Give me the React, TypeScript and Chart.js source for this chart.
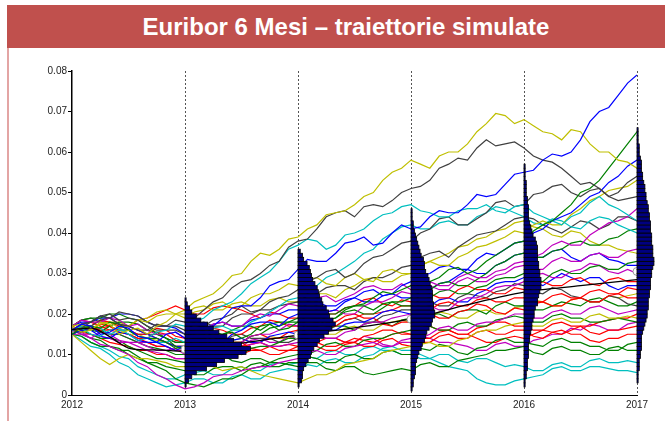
import React, { useEffect, useRef } from 'react';
import { Chart, registerables } from 'chart.js';

Chart.register(...registerables);

// ---- data ----
const TITLE = 'Euribor 6 Mesi – traiettorie simulate';
const YEARS = [2012, 2013, 2014, 2015, 2016, 2017];
// simulation grid, months after Jan 2012
const MONTHS = [0, 1, 2, 3, 4, 5, 6, 7, 8, 9, 10, 11, 12, 13, 14, 15, 16, 17, 18, 19, 20, 21, 22, 23, 24, 25, 26, 27, 28, 29, 30, 31, 32, 33, 34, 35, 36, 37, 38, 39, 40, 41, 42, 43, 44, 45, 46, 47, 48, 49, 50, 51, 52, 53, 54, 55, 56, 57, 58, 59, 60];

// simulated paths, values in per-mille (16 = 0.016)
const P01 = [16, 17.5, 17, 15, 15.5, 17, 16.5, 14.5, 14, 13, 15, 15.5, 14, 16.5, 17, 17, 19, 21.5, 22, 22, 24, 27, 28, 28.5, 31, 33.5, 33, 33, 35, 37.5, 38, 39, 37, 37.5, 40, 42, 41, 41.5, 44, 45.5, 45, 45, 47, 49.5, 49, 49.5, 52, 54.5, 55, 55.5, 58, 59.5, 59, 60, 63, 67.5, 70, 71, 74, 77, 79];
const P02 = [17, 15.5, 16, 18, 17.5, 15, 16, 16.5, 15, 17, 18, 20, 21, 23, 24, 25, 27, 29.5, 30, 33, 35, 34.5, 36, 38.5, 39, 41, 42, 44.5, 45, 45.5, 47, 49, 50, 53, 55, 56, 58, 57, 56, 59, 60, 60, 62, 65, 67, 69.5, 69, 67, 68, 66.5, 65, 64.5, 63, 65.5, 65, 62, 60, 60, 58, 57.5, 56];
const P03 = [16, 16.5, 18, 19.5, 19, 17.5, 17, 16, 16, 17.5, 17, 18.5, 18, 19, 21, 23, 24, 26.5, 28, 28.5, 30, 32, 33, 36.5, 38, 38.5, 41, 44, 45, 45.5, 44, 46.5, 47, 46.5, 48, 50, 51, 51.5, 53, 56, 57, 58.5, 58, 61, 63, 61.5, 62, 62.5, 61, 59, 58, 57.5, 56, 54, 52, 52.5, 51, 49, 50, 52.5, 54];
const P04 = [15, 16.5, 17, 16.5, 18, 17.5, 16, 14.5, 14, 14, 13, 11.5, 12, 13.5, 13, 13.5, 15, 15.5, 14, 15, 17, 17.5, 16, 16.5, 18, 19.5, 20, 18.5, 19, 21, 22, 22.5, 24, 25.5, 25, 26, 27, 28.5, 28, 29, 31, 31.5, 30, 31, 33, 34.5, 36, 37.5, 38, 40.5, 42, 43, 45, 47, 50, 51, 53, 56, 59, 62, 65];
const P05 = [16, 16.5, 15, 14.5, 16, 16.5, 15, 13.5, 14, 15.5, 16, 17.5, 17, 18, 19, 21, 22, 23, 25, 27.5, 29, 30.5, 33, 36, 37, 38.5, 38, 36, 37, 39.5, 40, 41, 43, 44.5, 45, 46.5, 47, 45.5, 45, 44, 44, 45.5, 46, 46, 47, 45.5, 45, 46.5, 47, 45, 44, 43, 42, 44, 45, 47.5, 49, 47, 46, 44.5, 43];
const P06 = [16, 17.5, 18, 19.5, 20, 18.5, 19, 18.5, 17, 16, 16, 16, 15, 16.5, 17, 18.5, 19, 20, 22, 20.5, 21, 23, 24, 24.5, 26, 28, 29, 30.5, 31, 29, 30, 32.5, 34, 34.5, 36, 37.5, 38, 40, 41, 43.5, 44, 42, 42, 43.5, 45, 47.5, 48, 46.5, 47, 49.5, 50, 51.5, 52, 50, 49, 50.5, 51, 49, 48, 48.5, 49];
const P07 = [17, 17.5, 16, 17.5, 18, 16.5, 17, 18.5, 18, 19.5, 20, 20, 19, 20.5, 21, 22.5, 23, 21.5, 22, 24, 25, 25, 26, 27.5, 27, 28.5, 29, 27.5, 27, 29, 30, 28.5, 28, 30.5, 31, 30, 30, 32, 33, 32, 32, 34, 35, 36.5, 37, 38, 39, 40.5, 40, 42, 43, 42, 42, 44.5, 46, 48, 49, 50.5, 51, 51.5, 53];
const P08 = [15, 16, 16, 14.5, 14, 15.5, 15, 13.5, 13, 13, 12, 11, 12, 13.5, 14, 13, 13, 15, 16, 17.5, 18, 18, 17, 19, 20, 21.5, 22, 20.5, 21, 23, 24, 25.5, 26, 24.5, 25, 27, 28, 29.5, 30, 31.5, 32, 31, 31, 33.5, 35, 34.5, 36, 37.5, 38, 40, 41, 43, 44, 45, 47, 49, 50, 52.5, 54, 56.5, 58];
const P09 = [16, 17, 17, 16.5, 15, 16, 16, 14.5, 14, 13, 13, 14, 13, 14.5, 15, 16.5, 17, 16, 16, 18, 19, 20.5, 22, 23.5, 24, 25, 27, 29, 30, 31.5, 33, 35, 36, 38.5, 40, 41.5, 42, 41, 41, 42.5, 43, 42, 42, 44, 45, 46.5, 46, 45, 44, 42.5, 42, 43.5, 43, 41.5, 41, 43, 44, 43.5, 42, 41, 40];
const P10 = [17, 18.5, 18, 18, 19, 18.5, 17, 17.5, 16, 15, 15, 15.5, 14, 15, 16, 17.5, 18, 17, 17, 19, 20, 19.5, 21, 22.5, 22, 23, 24, 24.5, 23, 24, 25, 26.5, 27, 26, 26, 27.5, 26, 27.5, 28, 27, 27, 29, 30, 29, 29, 30.5, 31, 32.5, 33, 34, 35, 37, 38, 37, 37, 39.5, 41, 42.5, 43, 44, 46];
const P11 = [16, 15.5, 17, 18.5, 19, 20.5, 20, 19.5, 18, 17, 17, 17, 16, 17.5, 18, 17, 17, 19, 20, 20, 21, 21, 22, 22.5, 23, 24.5, 25, 26.5, 27, 27, 26, 28, 29, 29, 30, 31.5, 32, 34, 35, 35.5, 34, 36.5, 38, 39.5, 40, 40.5, 42, 43.5, 44, 43.5, 42, 41, 40, 41.5, 43, 42.5, 41, 42, 44, 44, 43];
const P12 = [15, 16, 16, 15.5, 17, 18, 18, 17.5, 16, 15.5, 14, 13, 13, 14, 14, 15.5, 15, 16, 17, 17, 16, 17.5, 18, 18, 19, 20.5, 21, 20, 20, 21.5, 22, 22, 21, 22.5, 23, 23, 24, 25.5, 26, 27.5, 28, 27, 27, 28.5, 30, 32, 33, 34.5, 35, 34, 34, 35.5, 36, 37.5, 38, 37, 37, 38.5, 39, 40.5, 41];
const P13 = [15, 15, 14, 15.5, 15, 13.5, 13, 13, 12, 11, 11, 11.5, 10, 11.5, 12, 11, 11, 12.5, 13, 14.5, 15, 15, 16, 17.5, 17, 18.5, 19, 20.5, 21, 20, 20, 22, 23, 23, 24, 25.5, 25, 26.5, 27, 26, 26, 28, 29, 28, 28, 29.5, 30, 31.5, 32, 31, 31, 33, 34, 33, 33, 34.5, 35, 34, 34, 35.5, 36];
const P14 = [16, 17, 17, 16.5, 18, 18, 17, 18.5, 19, 20.5, 21, 20, 20, 21.5, 22, 21, 21, 22.5, 23, 22, 22, 23.5, 24, 23, 23, 24.5, 25, 25, 24, 26, 27, 28.5, 29, 28, 28, 29.5, 30, 32, 33, 34, 35, 36.5, 37, 38.5, 39, 40.5, 41, 42.5, 43, 41.5, 41, 39.5, 39, 40.5, 40, 38, 37, 37, 36, 35.5, 35];
const P15 = [17, 18.5, 19, 19, 20, 20, 19, 18.5, 17, 15, 14, 12, 11, 12, 12, 13.5, 14, 13, 13, 14.5, 15, 16.5, 17, 18, 18, 17, 17, 18.5, 19, 20.5, 21, 20, 20, 21.5, 23, 22, 22, 23.5, 24, 25.5, 26, 25, 25, 26.5, 27, 28.5, 29, 29, 30, 28.5, 28, 30, 31, 30, 30, 31.5, 32, 31, 31, 32.5, 33];
const P16 = [16, 17.5, 18, 19, 19, 20, 20, 19.5, 18, 17, 17, 16.5, 15, 16, 16, 17.5, 18, 17, 17, 18.5, 19, 20, 20, 21, 21, 22.5, 23, 22, 22, 23.5, 24, 23, 23, 24.5, 25, 24, 24, 25.5, 26, 27.5, 28, 29.5, 31, 30, 30, 32, 33, 34.5, 35, 34, 34, 35.5, 36, 34, 33, 34.5, 35, 33.5, 33, 32, 32];
const P17 = [16, 15, 15, 14.5, 14, 13, 13, 12, 11, 10.5, 10, 9, 9, 10.5, 10, 11.5, 12, 11, 11, 12.5, 13, 12, 12, 12.5, 13, 14.5, 15, 14, 14, 15.5, 16, 17.5, 18, 18, 19, 19.5, 20, 21.5, 22, 21, 21, 23, 24, 24, 25, 26.5, 27, 27, 28, 29.5, 30, 29, 29, 30.5, 31, 32.5, 32, 30.5, 30, 31, 30];
const P18 = [16, 16, 17, 18.5, 18, 17, 17, 18.5, 19, 20, 21, 22, 21, 20, 20, 21.5, 22, 21.5, 21, 20, 19, 20.5, 20, 19, 19, 20.5, 21, 20, 20, 21.5, 22, 23.5, 24, 22.5, 22, 23.5, 23, 24.5, 25, 24, 24, 26, 27, 26, 26, 25, 25, 26.5, 26, 27, 28, 27, 27, 28.5, 29, 27.5, 27, 28.5, 29, 28, 28];
const P19 = [17, 18, 18, 19.5, 19, 17.5, 17, 16, 15, 14, 13, 12, 12, 13.5, 13, 12, 12, 13.5, 14, 13, 13, 14.5, 15, 15.5, 15, 16.5, 17, 16, 16, 17.5, 18, 18, 19, 20.5, 21, 20.5, 20, 21.5, 22, 23.5, 24, 23, 23, 25, 26, 27.5, 28, 28, 29, 28, 27, 28.5, 30, 29, 28, 29, 29, 27, 26, 27, 27];
const P20 = [16, 17, 17, 16, 16, 15.5, 15, 14, 13, 12, 12, 11, 11, 12, 12, 13.5, 14, 13, 13, 14.5, 15, 14, 14, 15.5, 16, 17.5, 18, 17, 17, 18.5, 19, 20, 20, 20.5, 21, 22, 22, 21, 21, 22.5, 23, 22, 22, 23.5, 24, 23, 23, 24, 24, 23, 23, 24.5, 25, 24, 24, 25.5, 26, 25, 25, 26.5, 26];
const P21 = [15, 16, 16, 16.5, 17, 16, 16, 15, 15, 16.5, 16, 14.5, 14, 15.5, 15, 16.5, 16, 15, 15, 16.5, 17, 18.5, 18, 17, 17, 18.5, 19, 18, 18, 19.5, 20, 19, 19, 17.5, 17, 18, 18, 19.5, 20, 19, 19, 20.5, 21, 22.5, 22, 20.5, 20, 21.5, 21, 22.5, 23, 22, 22, 23.5, 24, 23, 23, 24.5, 25, 24, 24];
const P22 = [16, 16, 15, 14, 14, 13.5, 12, 11, 10, 9, 9, 8.5, 8, 8, 9, 10.5, 11, 11, 10, 11.5, 12, 12, 13, 14, 14, 14, 15, 16.5, 17, 17, 16, 17.5, 18, 18, 17, 18.5, 19, 19.5, 20, 20, 19, 20.5, 21, 21, 20, 22, 23, 22, 22, 21, 21, 22, 23, 22.5, 22, 23.5, 24, 23, 22, 22, 23];
const P23 = [17, 18.5, 19, 18, 18, 17.5, 16, 15, 15, 15, 14, 13, 13, 14, 14, 13, 13, 14.5, 15, 14, 14, 14, 13, 13, 14, 15.5, 16, 16, 17, 18.5, 19, 18, 18, 19.5, 20, 21, 21, 22.5, 23, 22, 22, 24, 25, 24.5, 24, 25.5, 26, 27.5, 27, 25.5, 25, 26.5, 26, 24.5, 24, 23, 23, 24.5, 24, 22.5, 22];
const P24 = [16, 15.5, 14, 12.5, 12, 11, 10, 8, 7, 5, 4, 2.5, 1.5, 2, 3, 4.5, 5, 5, 6, 6.5, 7, 7, 8, 8.5, 9, 10.5, 11, 10, 10, 11.5, 12, 12.5, 13, 12, 12, 13.5, 14, 14, 15, 16.5, 17, 16, 16, 17.5, 18, 18, 19, 20, 20, 19, 19, 20.5, 21, 20, 20, 21.5, 22, 21, 20, 20.5, 21];
const P25 = [15, 13, 11, 9, 7.5, 9, 10, 9, 9, 8.5, 8, 7, 7, 7, 8, 7, 6, 6.5, 7, 6, 5, 4.5, 4, 3.5, 3, 4, 5, 5, 6, 7.5, 8, 8.5, 9, 10.5, 11, 11.5, 12, 12.5, 13, 12, 12, 13.5, 14, 15.5, 16, 16, 17, 17.5, 18, 17, 17, 18.5, 19, 18, 18, 19.5, 20, 19, 19, 19.5, 19];
const P26 = [16, 15, 14, 13.5, 12, 11, 11, 9.5, 8, 7, 6, 4, 3, 2.5, 2, 3, 4, 4, 5, 6.5, 7, 8, 9, 9.5, 10, 10, 11, 12.5, 13, 12, 12, 13.5, 14, 14, 15, 15.5, 16, 16, 17, 16, 16, 17.5, 18, 17, 17, 18.5, 19, 19.5, 19, 18, 18, 19.5, 20, 19, 19, 18, 18, 18.5, 19, 18.5, 18];
const P27 = [17, 16, 16, 17.5, 17, 15.5, 15, 14, 14, 15.5, 15, 13.5, 13, 14, 14, 12.5, 12, 13, 13, 11.5, 11, 12, 12, 12.5, 12, 13.5, 13, 14, 14, 13, 13, 14.5, 15, 16, 16, 15, 15, 16.5, 17, 16, 16, 15, 15, 16.5, 17, 18, 18, 17, 17, 16, 16, 17.5, 18, 17, 17, 15.5, 15, 16, 16, 16.5, 17];
const P28 = [16, 15.5, 15, 14, 13, 12.5, 12, 11, 11, 10, 10, 9, 9, 10, 10, 9.5, 9, 10, 10, 11, 11, 10, 10, 11, 11, 12, 12, 11, 11, 12.5, 13, 12, 12, 13.5, 14, 12.5, 12, 13, 13, 14.5, 15, 14, 14, 15.5, 16, 15, 15, 16, 16, 14.5, 14, 15.5, 16, 15, 15, 13.5, 13, 14, 14, 15, 15];
const P29 = [15, 14.5, 13, 12, 12, 11.5, 10, 9, 8, 8, 7, 6.5, 6, 5, 5, 6.5, 7, 7, 6, 7.5, 8, 7, 7, 8, 8, 9.5, 9, 8, 8, 9.5, 10, 9, 9, 10.5, 11, 10, 10, 11.5, 11, 12.5, 12, 10.5, 10, 11.5, 12, 13.5, 14, 13, 13, 12.5, 12, 13.5, 14, 13, 13, 12, 12, 11, 11, 12.5, 13];
const P30 = [16, 17, 17, 16, 15, 15, 14, 13, 12, 11.5, 11, 10, 10, 9, 9, 10, 10, 8.5, 8, 9, 9, 8, 8, 7.5, 7, 8, 8, 6.5, 6, 7, 7, 5.5, 5, 5.5, 6, 6.5, 6, 7.5, 8, 7, 7, 8.5, 9, 9.5, 10, 11, 11, 11.5, 12, 10.5, 10, 11.5, 12, 11, 11, 10, 10, 11.5, 12, 11, 11];
const P31 = [15, 14.5, 13, 12, 11, 9.5, 9, 7, 6, 5, 4, 4, 5, 5.5, 6, 5, 5, 6.5, 7, 6, 6, 7.5, 8, 7.5, 8, 9.5, 9, 10.5, 11, 10, 10, 11.5, 12, 11, 11, 10, 10, 9, 9, 10, 10, 8.5, 8, 9, 9, 8, 7, 7.5, 7, 6, 6, 7.5, 8, 7, 7, 8.5, 9, 8, 8, 8.5, 8];
const P32 = [15, 13.5, 12, 11.5, 10, 8, 7, 5, 4, 3, 2, 2.5, 3, 4, 4, 3, 3, 4.5, 5, 4, 4, 5.5, 6, 6.5, 6, 7.5, 7, 8.5, 9, 8, 8, 9.5, 10, 11.5, 12, 11, 11, 10, 9, 8, 7, 6.5, 6, 4, 3, 2.5, 2.5, 3.5, 4, 4.5, 5, 6.5, 7, 6, 6, 7, 7, 6.5, 6, 6, 5.5];
const P33 = [17, 18.5, 18, 17, 16, 16.5, 17, 16, 15, 14, 13, 12, 12, 12.5, 13, 14.5, 14, 13, 12, 12.5, 13, 12, 11, 11, 12, 13.5, 13, 12, 12, 13, 14, 13.5, 13, 14, 15, 15.5, 15, 14, 14, 15.5, 16, 15, 15, 14, 13, 13, 14, 14.5, 14, 15, 16, 15.5, 15, 16, 17, 17, 18, 18.5, 19, 19, 20];
const P34 = [16, 17, 17, 15.5, 15, 15, 14, 13, 13, 12, 12, 11, 11, 12.5, 12, 12, 13, 12, 12, 13.5, 14, 13, 13, 14.5, 14, 15.5, 15, 14, 14, 13, 13, 14.5, 14, 12.5, 12, 13, 13, 14.5, 14, 13, 13, 12.5, 12, 11, 11, 12.5, 13, 12, 12, 13.5, 14, 15, 15, 16.5, 16, 17.5, 17, 16, 16, 17.5, 18];
const P35 = [16, 17.5, 18, 18, 17, 16, 15, 15, 14, 13.5, 13, 12, 12, 12.5, 13, 12, 12, 13.5, 14, 13, 13, 14.5, 14, 14, 15, 16.5, 16, 15, 15, 16.5, 17, 16, 16, 17.5, 18, 18.5, 18, 19, 19, 20.5, 20, 19, 19, 20.5, 21, 20, 20, 21.5, 22, 23.5, 23, 22, 22, 23.5, 24, 23, 23, 24.5, 24, 24.5, 25];

const PATHS = [P01, P02, P03, P04, P05, P06, P07, P08, P09, P10, P11, P12, P13, P14, P15, P16, P17, P18, P19, P20, P21, P22, P23, P24, P25, P26, P27, P28, P29, P30, P31, P32, P33, P34, P35];
const PATH_COLORS = ['b', 'y', 'k', 'g', 'c', 'k', 'y', 'b', 'c', 'm', 'k', 'g', 'm', 'y', 'g', 'b', 'm', 'r', 'b', 'r', 'r', 'g', 'k', 'm', 'y', 'g', 'r', 'r', 'g', 'g', 'c', 'c', 'r', 'm', 'y'];
const COLOR_MAP: Record<string, string> = { b: '#0000ff', g: '#008000', r: '#ff0000', c: '#00bfbf', m: '#bf00bf', y: '#bfbf00', k: '#404040' };

// mean path (per-mille)
const MEAN_T = [2012, 2012.1, 2012.18, 2012.26, 2012.34, 2012.42, 2012.5, 2012.6, 2012.8, 2013, 2013.5, 2014, 2014.5, 2015, 2015.5, 2016, 2016.5, 2017];
const MEAN_V = [16.2, 16.4, 16.5, 15.6, 14.3, 12.8, 11.6, 11.2, 11.1, 10.8, 12.8, 14.8, 16.6, 18.8, 22.3, 25.4, 27, 28.5];
const MARK_T = [2013, 2014, 2015, 2017];
const MARK_V = [11.3, 14.8, 18.7, 30.5];

// histograms of simulated values at each year: bins of 1 per-mille starting at HIST_START
const HIST_YEARS = [2013, 2014, 2015, 2016, 2017];
const HIST_START = [2, 2, 1, 2, 3];
const H2013 = [1, 3, 6, 10, 19, 28, 35, 47, 54, 58, 50, 43, 37, 30, 25, 20, 14, 10, 6, 4, 2, 1];
const H2014 = [1, 3, 4, 4, 5, 7, 9, 11, 12, 14, 17, 19, 23, 27, 30, 33, 31, 28, 27, 25, 22, 21, 19, 18, 17, 15, 13, 12, 11, 10, 8, 5, 4, 2];
const H2015 = [1, 2, 2, 3, 4, 4, 4, 5, 6, 7, 9, 10, 12, 13, 14, 16, 18, 19, 21, 21, 20, 20, 19, 19, 19, 18, 17, 16, 15, 13, 12, 12, 11, 9, 8, 7, 6, 5, 4, 3, 2, 2, 1, 1, 1];
const H2016 = [1, 1, 2, 2, 3, 3, 3, 4, 4, 4, 4, 5, 5, 6, 7, 7, 8, 9, 9, 10, 12, 12, 13, 14, 15, 15, 15, 14, 14, 13, 13, 12, 12, 12, 12, 11, 10, 8, 7, 6, 5, 4, 4, 4, 4, 3, 3, 2, 2, 2, 2, 1, 1, 1, 1];
const H2017 = [1, 1, 1, 2, 2, 2, 3, 3, 4, 4, 4, 4, 5, 6, 7, 8, 9, 9, 10, 10, 10, 11, 11, 12, 12, 12, 13, 13, 14, 15, 15, 14, 14, 14, 13, 13, 13, 12, 12, 12, 11, 11, 10, 10, 9, 8, 8, 7, 7, 6, 5, 5, 4, 4, 4, 3, 2, 2, 2, 1, 1, 1, 1];
const HISTS = [H2013, H2014, H2015, H2016, H2017];
const HIST_UNIT = 0.01; // years of width per count unit

const Y_TICKS = [0, 0.01, 0.02, 0.03, 0.04, 0.05, 0.06, 0.07, 0.08];

const FONT = "'Liberation Sans', Arial, sans-serif";

const yearLines = {
  id: 'yearLines',
  beforeDatasetsDraw(chart: any) {
    const { ctx, scales, chartArea } = chart;
    const x = scales.x;
    ctx.save();
    ctx.strokeStyle = '#555';
    ctx.lineWidth = 1;
    ctx.setLineDash([2, 2]);
    YEARS.slice(1).forEach((yr) => {
      const px = Math.round(x.getPixelForValue(yr)) + 0.5;
      ctx.beginPath();
      ctx.moveTo(px, chartArea.top);
      ctx.lineTo(px, chartArea.bottom);
      ctx.stroke();
    });
    ctx.restore();
  },
};

const histPlugin = {
  id: 'hists',
  afterDatasetsDraw(chart: any) {
    const { ctx, scales } = chart;
    const x = scales.x;
    const y = scales.y;
    ctx.save();
    HISTS.forEach((h, k) => {
      const yr = HIST_YEARS[k];
      const x0 = x.getPixelForValue(yr);
      h.forEach((c, j) => {
        const lo = (HIST_START[k] + j) / 1000;
        const hi = lo + 0.001;
        const x1 = x.getPixelForValue(yr + c * HIST_UNIT);
        const yT = y.getPixelForValue(hi);
        const yB = y.getPixelForValue(lo);
        ctx.fillStyle = '#000080';
        ctx.fillRect(x0, yT, x1 - x0, yB - yT);
        ctx.strokeStyle = '#000000';
        ctx.lineWidth = 0.8;
        ctx.strokeRect(x0, yT, x1 - x0, yB - yT);
      });
    });
    ctx.restore();
  },
};

export default function App() {
  const ref = useRef<HTMLCanvasElement>(null);
  useEffect(() => {
    if (!ref.current) return;
    const pathSets = PATHS.map((p, i) => ({
      type: 'line' as const,
      data: p.map((v, j) => ({ x: 2012 + MONTHS[j] / 12, y: v / 1000 })),
      borderColor: COLOR_MAP[PATH_COLORS[i]],
      borderWidth: 1.2,
      pointRadius: 0,
      tension: 0,
      fill: false,
    }));
    const chart = new Chart(ref.current, {
      type: 'line',
      data: {
        datasets: [
          {
            data: MARK_T.map((t, i) => ({ x: t, y: MARK_V[i] / 1000 })),
            showLine: false,
            pointRadius: 4,
            pointBackgroundColor: '#ffffff',
            pointBorderColor: '#999999',
            pointBorderWidth: 1,
          },
          {
            data: MEAN_T.map((t, i) => ({ x: t, y: MEAN_V[i] / 1000 })),
            borderColor: '#000000',
            borderWidth: 1.3,
            pointRadius: 0,
            tension: 0.3,
            fill: false,
          },
          ...pathSets,
        ] as any,
      },
      options: {
        animation: false,
        responsive: false,
        maintainAspectRatio: false,
        layout: { padding: { left: 0, right: 35, top: 71, bottom: 0 } },
        plugins: { legend: { display: false }, tooltip: { enabled: false } },
        scales: {
          x: {
            type: 'linear',
            min: 2012,
            max: 2017,
            afterFit: (s: any) => { s.height = 26; },
            afterBuildTicks: (s: any) => { s.ticks = YEARS.map((v) => ({ value: v })); },
            ticks: {
              callback: (v: any) => String(v),
              font: { family: FONT, size: 10 },
              color: '#222',
              padding: 4,
              maxRotation: 0,
              autoSkip: false,
            },
            grid: { drawOnChartArea: false, drawTicks: false },
            border: { color: '#000', width: 1 },
          },
          y: {
            min: 0,
            max: 0.08,
            afterFit: (s: any) => { s.width = 72; },
            afterBuildTicks: (s: any) => { s.ticks = Y_TICKS.map((v) => ({ value: v })); },
            ticks: {
              callback: (v: any) => (v === 0 ? '0' : Number(v).toFixed(2)),
              font: { family: FONT, size: 10 },
              color: '#222',
              padding: 1,
            },
            grid: { drawOnChartArea: false, tickLength: 4, color: '#000' },
            border: { color: '#000', width: 1.5 },
          },
        },
      },
      plugins: [yearLines, histPlugin],
    });
    return () => chart.destroy();
  }, []);

  return (
    <div style={{ position: 'fixed', left: 0, top: 0, width: 672, height: 421, background: '#fff', overflow: 'hidden' }}>
      <div style={{ position: 'absolute', left: 7, top: 5, width: 658, height: 43, background: '#C0504D' }} />
      <div
        style={{
          position: 'absolute', left: 96, top: 5, width: 500, height: 43, lineHeight: '43px',
          textAlign: 'center', color: '#fff', fontFamily: FONT, fontWeight: 'bold', fontSize: 24,
        }}
      >
        {TITLE}
      </div>
      <div style={{ position: 'absolute', left: 7, top: 48, width: 2, height: 373, background: '#E3A5A4' }} />
      <canvas ref={ref} width={672} height={421} style={{ position: 'absolute', left: 0, top: 0, width: 672, height: 421 }} />
    </div>
  );
}
